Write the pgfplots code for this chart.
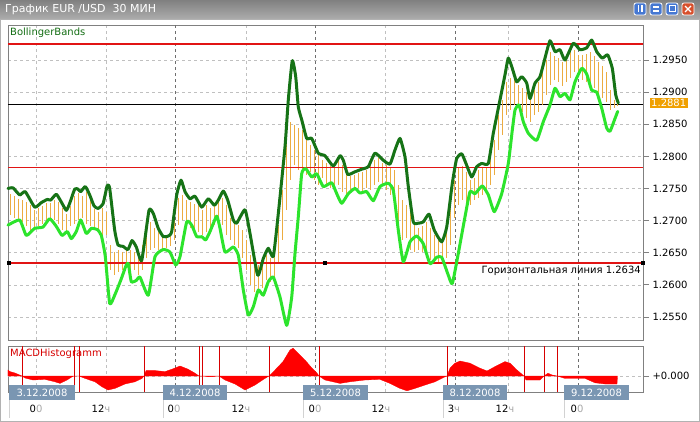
\documentclass[border=0pt]{standalone}
\usepackage{pgfplots}
\pgfplotsset{compat=1.18}
\usepackage{pgfplotstable}
\usepackage{fontspec}
\setmainfont{DejaVu Sans}
\definecolor{upperg}{RGB}{22,115,22}
\definecolor{lowerg}{RGB}{44,228,44}
\definecolor{barorg}{RGB}{236,172,64}
\definecolor{hred}{RGB}{215,0,0}
\definecolor{lred}{RGB}{225,20,20}
\definecolor{datebox}{RGB}{122,150,178}
\definecolor{framec}{RGB}{128,128,128}
\definecolor{gridc}{RGB}{192,192,192}
\definecolor{gridd}{RGB}{110,110,110}
\definecolor{pricebox}{RGB}{240,160,0}
\definecolor{btnblue}{RGB}{70,120,210}
\definecolor{btnred}{RGB}{215,80,45}
\definecolor{txtgreen}{RGB}{20,110,20}

\pgfplotstableread{
x y
8 1.2750
13 1.2751
19.7 1.2740
25.3 1.2745
34.7 1.2721
41.3 1.2728
47.3 1.2733
50.7 1.2732
56.3 1.2741
61.3 1.2729
66.3 1.2716
69.7 1.2727
74.7 1.2749
78 1.2749
80.7 1.2745
85.3 1.2753
89.7 1.2740
94 1.2723
98 1.2719
103 1.2726
107.3 1.2755
109.7 1.2750
114.7 1.2685
118 1.2662
123 1.2660
128 1.2655
132 1.2669
136.3 1.2659
141.7 1.2638
149 1.2716
153.3 1.2711
158.3 1.2688
163.3 1.2675
168.3 1.2676
171.7 1.2683
176.7 1.2740
181 1.2763
185 1.2745
190 1.2734
195 1.2738
201.7 1.2721
208.3 1.2734
214.3 1.2724
218.3 1.2732
223.3 1.2746
227.7 1.2732
233.3 1.2701
236.7 1.2696
245 1.2717
250 1.2680
257.7 1.2615
263.3 1.2641
268.3 1.2657
273.3 1.2644
278.3 1.2711
285 1.2815
288.3 1.2888
292.3 1.2949
295.7 1.2924
298.3 1.2877
301.7 1.2857
306.7 1.2828
311.7 1.2828
318.3 1.2805
325 1.2801
333.3 1.2785
340 1.2801
343.3 1.2794
347.7 1.2772
355 1.2776
361.7 1.2780
368.3 1.2784
375 1.2805
383.3 1.2794
390 1.2788
395 1.2810
400 1.2828
405 1.2799
408.3 1.2753
413.3 1.2698
418.3 1.2696
423.3 1.2698
429 1.2710
434.3 1.2685
441.7 1.2667
446.7 1.2690
452.3 1.2758
456.7 1.2797
461.7 1.2804
465.7 1.2790
471.7 1.2768
476.7 1.2784
481.7 1.2789
488.3 1.2789
493.3 1.2836
500 1.2888
505 1.2927
508.3 1.2953
512.3 1.2937
516.7 1.2916
521.7 1.2924
526.7 1.2914
530 1.2890
535 1.2914
540 1.2924
545 1.2953
550 1.2980
555 1.2963
560 1.2966
565 1.2950
573.3 1.2976
580 1.2966
586.7 1.2969
591.7 1.2981
596.7 1.2963
602.3 1.2953
607.7 1.2958
612.3 1.2937
615.7 1.2896
618.3 1.2883
}\upband

\pgfplotstableread{
x y
8 1.2693
19.7 1.2701
26.3 1.2677
34.7 1.2688
43 1.2690
49.7 1.2703
56.3 1.2691
62 1.2677
67.3 1.2683
71.3 1.2672
76.3 1.2683
80.7 1.2701
86.3 1.2680
91.3 1.2688
97.3 1.2686
101.3 1.2677
105.3 1.2644
109.7 1.2571
114.7 1.2584
120.7 1.2607
126.3 1.2631
128.3 1.2633
131.3 1.2605
136.3 1.2607
140 1.2612
148.3 1.2584
155 1.2644
163.3 1.2655
170 1.2651
175.7 1.2631
180 1.2644
186.7 1.2698
191.7 1.2693
196.7 1.2675
201.7 1.2675
205.7 1.2670
210 1.2683
216.7 1.2707
220 1.2688
225 1.2651
233.3 1.2659
238.3 1.2646
243.3 1.2592
248.3 1.2553
253.3 1.2566
258.3 1.2592
263.3 1.2584
268.3 1.2605
273.3 1.2612
280 1.2581
286.7 1.2537
291.7 1.2581
295 1.2649
298.3 1.2706
301.7 1.2773
305.7 1.2781
311.7 1.2768
316.7 1.2773
323.3 1.2753
331.7 1.2759
336.7 1.2742
341.7 1.2727
348.3 1.2742
355 1.2750
360 1.2743
366.7 1.2745
373.3 1.2731
380 1.2753
388.3 1.2758
393.3 1.2747
398.3 1.2685
403.3 1.2636
410 1.2667
416.7 1.2676
423.3 1.2664
430 1.2633
436.7 1.2643
441.7 1.2643
448.3 1.2615
452.3 1.2602
458.3 1.2649
465 1.2706
470 1.2745
475 1.2742
482.3 1.2754
488.3 1.2740
494.3 1.2714
501.7 1.2742
508.3 1.2789
512.3 1.2841
515 1.2872
519 1.2880
523.3 1.2854
528.3 1.2836
536.7 1.2825
543.3 1.2854
550 1.2880
555 1.2906
560 1.2893
565 1.2898
570 1.2888
575 1.2916
581.7 1.2937
586.7 1.2928
591.7 1.2903
596.7 1.2900
601.7 1.2875
606.7 1.2844
610 1.2839
615 1.2859
617.7 1.2870
}\lowband

\pgfplotstableread{
x lo hi
10 1.2709 1.2741
14 1.2704 1.2738
18 1.2701 1.2733
22 1.2698 1.2732
26 1.2691 1.2729
30 1.2682 1.2724
34 1.2688 1.2716
38 1.2691 1.2719
42 1.2694 1.2723
46 1.2698 1.2727
50 1.2701 1.2727
54 1.2701 1.2732
58 1.2694 1.2729
62 1.2685 1.2719
66 1.2682 1.2710
70 1.2691 1.2723
74 1.2694 1.2738
78 1.2701 1.2743
82 1.2704 1.2738
86 1.2694 1.2744
90 1.2691 1.2732
94 1.2685 1.2718
98 1.2682 1.2713
102 1.2666 1.2719
106 1.2677 1.2713
110 1.2623 1.2662
114 1.2615 1.2651
118 1.2620 1.2654
122 1.2623 1.2651
126 1.2626 1.2657
130 1.2620 1.2654
134 1.2623 1.2651
138 1.2615 1.2646
142 1.2623 1.2662
146 1.2642 1.2693
150 1.2654 1.2698
154 1.2657 1.2688
158 1.2654 1.2682
162 1.2654 1.2676
166 1.2657 1.2676
170 1.2660 1.2682
174 1.2670 1.2709
178 1.2693 1.2735
182 1.2701 1.2740
186 1.2698 1.2732
190 1.2688 1.2729
194 1.2685 1.2726
198 1.2682 1.2724
202 1.2677 1.2716
206 1.2682 1.2724
210 1.2688 1.2719
214 1.2693 1.2723
218 1.2698 1.2729
222 1.2693 1.2735
226 1.2677 1.2724
230 1.2670 1.2704
234 1.2662 1.2698
238 1.2657 1.2693
242 1.2642 1.2685
246 1.2623 1.2670
250 1.2600 1.2646
254 1.2589 1.2635
258 1.2592 1.2631
262 1.2595 1.2635
266 1.2607 1.2646
270 1.2604 1.2642
274 1.2610 1.2651
278 1.2635 1.2693
282 1.2670 1.2747
286 1.2716 1.2825
290 1.2763 1.2853
294 1.2786 1.2849
298 1.2779 1.2844
302 1.2776 1.2841
306 1.2771 1.2825
310 1.2776 1.2818
314 1.2763 1.2810
318 1.2755 1.2802
322 1.2766 1.2794
326 1.2755 1.2790
330 1.2751 1.2785
334 1.2747 1.2782
338 1.2755 1.2794
342 1.2744 1.2786
346 1.2738 1.2776
350 1.2744 1.2769
354 1.2747 1.2771
358 1.2751 1.2774
362 1.2744 1.2776
366 1.2751 1.2779
370 1.2747 1.2786
374 1.2755 1.2794
378 1.2760 1.2797
382 1.2755 1.2790
386 1.2747 1.2786
390 1.2740 1.2782
394 1.2732 1.2779
398 1.2685 1.2755
402 1.2670 1.2732
406 1.2673 1.2724
410 1.2654 1.2713
414 1.2651 1.2698
418 1.2654 1.2688
422 1.2651 1.2691
426 1.2646 1.2698
430 1.2638 1.2688
434 1.2642 1.2677
438 1.2635 1.2673
442 1.2635 1.2670
446 1.2642 1.2685
450 1.2662 1.2724
454 1.2704 1.2763
458 1.2724 1.2782
462 1.2732 1.2785
466 1.2729 1.2776
470 1.2724 1.2763
474 1.2732 1.2766
478 1.2735 1.2779
482 1.2740 1.2782
486 1.2747 1.2782
490 1.2755 1.2797
494 1.2771 1.2825
498 1.2810 1.2864
502 1.2833 1.2888
506 1.2864 1.2916
510 1.2872 1.2922
514 1.2880 1.2919
518 1.2875 1.2911
522 1.2869 1.2906
526 1.2860 1.2900
530 1.2853 1.2896
534 1.2864 1.2903
538 1.2869 1.2916
542 1.2880 1.2934
546 1.2896 1.2950
550 1.2911 1.2962
554 1.2919 1.2956
558 1.2916 1.2953
562 1.2910 1.2947
566 1.2916 1.2950
570 1.2922 1.2962
574 1.2931 1.2966
578 1.2927 1.2958
582 1.2919 1.2958
586 1.2916 1.2959
590 1.2913 1.2962
594 1.2906 1.2956
598 1.2896 1.2947
602 1.2891 1.2941
606 1.2885 1.2931
610 1.2872 1.2903
614 1.2875 1.2888
617 1.2878 1.2888
}\bars

\pgfplotstableread{
x v
8 0.0003
10 0.00022
15 0.00015
22 0
25 -0.0001
33 -0.0002
45 -0.00017
55 -0.00029
60 -0.00037
67 -0.0002
72 -0.00004
74 0
79 0
85 -0.00012
95 -0.00029
102 -0.00054
108 -0.0007
115 -0.00062
125 -0.0004
135 -0.00029
142 -0.00012
144 0
146 0.00027
155 0.00027
165 0.00022
172 0.00034
180 0.0005
188 0.00034
195 0.00014
199 0
202 0
210 -0.00004
219 0
225 -0.0002
235 -0.0004
245 -0.0007
255 -0.00045
265 -0.00012
269 0
275 0.0003
283 0.00072
290 0.0013
293 0.00139
298 0.00114
305 0.0008
312 0.00039
317 0.00014
319 0
325 -0.0002
340 -0.00037
350 -0.00029
365 -0.0002
380 -0.00017
390 -0.00037
400 -0.00062
407 -0.00074
415 -0.00062
425 -0.00045
435 -0.00029
445 -0.00004
447 0
450 0.00039
455 0.00064
460 0.00075
470 0.00064
480 0.00039
487 0.00025
495 0.00047
505 0.00072
510 0.00064
517 0.0003
524 0
526 -0.0002
540 -0.0002
544 0
548 0.00014
552 0.00005
557 0
565 -0.00012
585 -0.00012
595 -0.00034
605 -0.0004
617 -0.0004
617.5 0
}\macd

\pgfplotsset{
  mtaxis/.style={
    anchor=south west, scale only axis, width=635pt,
    xmin=8, xmax=643,
    axis line style={draw=framec, line width=0.8pt},
    xtick={36,106,246,385,508}, xticklabels={},
    extra x ticks={175,315,455,578}, extra x tick labels={},
    extra x tick style={grid=major, major grid style={draw=gridd, dash pattern=on 3pt off 3pt, line width=0.6pt}},
    xtick style={draw=none},
    major grid style={draw=gridc, dash pattern=on 3pt off 3pt, line width=0.6pt},
    ytick pos=right, yticklabel pos=right,
    tick align=outside, major tick length=6pt,
    ytick style={draw=framec, line width=0.8pt},
    scaled y ticks=false,
    yticklabel style={font=\fontsize{10}{12}\selectfont, text=black, /pgf/number format/.cd, fixed, fixed zerofill, precision=4, assume math mode=true, /tikz/.cd},
    clip=false,
  }
}

\begin{document}
\begin{tikzpicture}[x=1pt,y=1pt,font=\fontsize{10}{12}\selectfont]
\useasboundingbox (0,0) rectangle (700,422);
\fill[white] (0,0) rectangle (700,422);
\shade[top color={rgb,255:red,128;green,128;blue,128}, bottom color={rgb,255:red,172;green,172;blue,172}] (0,403) rectangle (700,422);
\node[anchor=west, text=white, font=\fontsize{11}{13}\selectfont, inner sep=0pt] at (5,412.5) {График EUR /USD~~30 МИН};
% window buttons
\foreach \bx/\col in {634/btnblue,650/btnblue,666/btnblue,682/btnred}{
  \draw[white, fill=\col, rounded corners=2pt, line width=0.8pt] (\bx,407) rectangle ++(12,12);
}
\fill[white] (637.5,409.5) rectangle ++(1.8,7);
\fill[white] (640.7,409.5) rectangle ++(1.8,7);
\draw[white, line width=1.2pt] (653,411) -- (659,411) (653,415) -- (659,415);
\draw[white, line width=1pt] (669,410) rectangle (675,416);
\draw[white, line width=1.3pt] (685,410) -- (691,416) (685,416) -- (691,410);
\draw[gray!60, line width=0.6pt] (0.3,0.3) rectangle (699.7,402.7);

% ---------- main price panel ----------
\begin{axis}[mtaxis, at={(8pt,82pt)}, height=315pt,
  ymin=1.25142, ymax=1.30045,
  ytick={1.2550,1.2600,1.2650,1.2700,1.2750,1.2800,1.2850,1.2900,1.2950},
  grid=major,
]
\addplot[draw=black, line width=0.9pt, mark=none] coordinates {(8,1.2881) (643,1.2881)};
\addplot[draw=none, mark=none, forget plot,
  error bars/.cd, y dir=minus, y explicit, error mark=none,
  error bar style={draw=barorg, line width=0.7pt}]
  table[x=x, y=hi, y error minus expr=\thisrow{hi}-\thisrow{lo}] {\bars};
\addplot[draw=lred, line width=1.3pt, mark=none] coordinates {(8,1.2975) (643,1.2975)};
\addplot[draw=lred, line width=1.3pt, mark=none] coordinates {(8,1.2783) (643,1.2783)};
\addplot[draw=lred, line width=1.3pt, mark=none] coordinates {(8,1.2634) (643,1.2634)};
\addplot[color=lowerg, line width=3pt, line join=round, line cap=round, smooth, tension=0.3] table[x=x,y=y] {\lowband};
\addplot[color=upperg, line width=3pt, line join=round, line cap=round, smooth, tension=0.3] table[x=x,y=y] {\upband};
\addplot[only marks, mark=square*, mark size=1.4pt, black] coordinates {(8.5,1.2634) (325,1.2634) (642.5,1.2634)};
\end{axis}

% ---------- MACD panel ----------
\begin{axis}[mtaxis, at={(8pt,30pt)}, height=46pt,
  ymin=-0.0008, ymax=0.0015,
  ytick={0}, yticklabels={+0.000},
  xmajorgrids=true, ymajorgrids=false,
]
\addplot[color=gridc, dash pattern=on 3pt off 3pt, line width=0.6pt] coordinates {(8,0) (643,0)};
\addplot[fill=red, draw=red, line width=0.3pt] table[x=x,y=v] {\macd} \closedcycle;
\pgfplotsinvokeforeach{22,74,79,144,199,202,219,269,319,447,524,544,557}{
  \addplot[color=hred, line width=0.8pt] coordinates {(#1,-0.0008) (#1,0.0015)};
}
\end{axis}

% ---------- texts ----------
\node[anchor=west, text=txtgreen, inner sep=0pt] at (10,389) {BollingerBands};
\node[anchor=west, text=hred, inner sep=0pt] at (10,68) {MACDHistogramm};
\node[anchor=east, text=black, inner sep=0pt] at (641,151) {Горизонтальная линия 1.2634};
\node[anchor=west, fill=pricebox, text=white, inner xsep=1.5pt, inner ysep=1pt] at (649.5,319) {1.2881};

% date boxes
\foreach \a/\b/\t in {9/75/3.12.2008, 163/227/4.12.2008, 303/368/5.12.2008, 443/507/8.12.2008, 564/629/9.12.2008}{
  \draw[gray!35, line width=0.6pt] (\a,4) -- (\a,30);
  \fill[datebox] (\a,22) rectangle (\b,37);
  \node[text=white, inner sep=0pt] at ({(\a+\b)/2},29.5) {\t};
}
% hour labels
\foreach \p/\h/\s in {36/0/0, 101/12/ч, 174/0/0, 241/12/ч, 315/0/0, 381/12/ч, 454/3/ч, 505/12/ч, 577/0/0}{
  \node[inner sep=0pt] at (\p,13) {\h\textcolor{gray!70}{\s}};
}
\end{tikzpicture}
\end{document}
